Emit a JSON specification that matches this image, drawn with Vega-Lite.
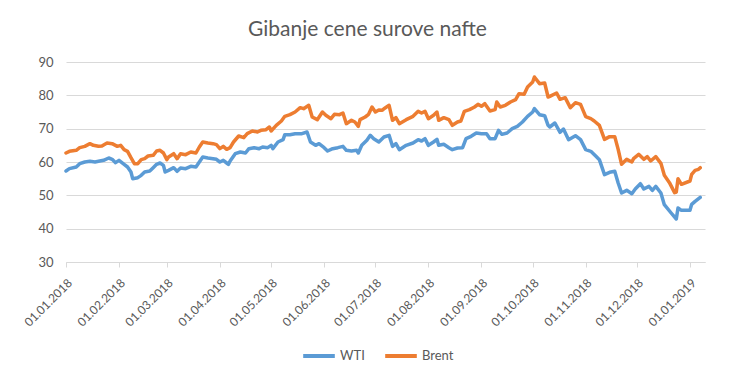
{
  "$schema": "https://vega.github.io/schema/vega-lite/v6.json",
  "width": 639,
  "height": 200,
  "autosize": {"type": "none"},
  "padding": {"left": 66, "top": 62, "right": 29, "bottom": 118},
  "background": "white",
  "title": {"text": "Gibanje cene surove nafte", "fontSize": 21, "fontWeight": "normal", "color": "#595959", "font": "Lato", "offset": 16, "dx": -18},
  "config": {"view": {"stroke": null}},
  "data": {"values": [
    {"d":"2018-01-01","s":"WTI","v":57.3},{"d":"2018-01-03","s":"WTI","v":58.0},{"d":"2018-01-07","s":"WTI","v":58.5},{"d":"2018-01-09","s":"WTI","v":59.5},{"d":"2018-01-12","s":"WTI","v":60.0},{"d":"2018-01-15","s":"WTI","v":60.2},{"d":"2018-01-18","s":"WTI","v":60.0},{"d":"2018-01-20","s":"WTI","v":60.2},{"d":"2018-01-23","s":"WTI","v":60.5},{"d":"2018-01-26","s":"WTI","v":61.2},{"d":"2018-01-28","s":"WTI","v":60.8},{"d":"2018-01-30","s":"WTI","v":59.8},{"d":"2018-02-01","s":"WTI","v":60.5},{"d":"2018-02-04","s":"WTI","v":59.3},{"d":"2018-02-06","s":"WTI","v":58.5},{"d":"2018-02-08","s":"WTI","v":57.0},{"d":"2018-02-09","s":"WTI","v":55.0},{"d":"2018-02-12","s":"WTI","v":55.3},{"d":"2018-02-14","s":"WTI","v":56.0},{"d":"2018-02-16","s":"WTI","v":57.0},{"d":"2018-02-19","s":"WTI","v":57.3},{"d":"2018-02-21","s":"WTI","v":58.3},{"d":"2018-02-23","s":"WTI","v":59.3},{"d":"2018-02-25","s":"WTI","v":59.7},{"d":"2018-02-27","s":"WTI","v":59.0},{"d":"2018-02-28","s":"WTI","v":57.0},{"d":"2018-03-02","s":"WTI","v":57.5},{"d":"2018-03-05","s":"WTI","v":58.3},{"d":"2018-03-07","s":"WTI","v":57.2},{"d":"2018-03-09","s":"WTI","v":58.2},{"d":"2018-03-12","s":"WTI","v":58.0},{"d":"2018-03-15","s":"WTI","v":58.7},{"d":"2018-03-18","s":"WTI","v":58.5},{"d":"2018-03-20","s":"WTI","v":60.0},{"d":"2018-03-22","s":"WTI","v":61.5},{"d":"2018-03-25","s":"WTI","v":61.2},{"d":"2018-03-28","s":"WTI","v":61.0},{"d":"2018-03-30","s":"WTI","v":60.8},{"d":"2018-04-01","s":"WTI","v":60.0},{"d":"2018-04-03","s":"WTI","v":60.5},{"d":"2018-04-05","s":"WTI","v":59.7},{"d":"2018-04-06","s":"WTI","v":59.3},{"d":"2018-04-07","s":"WTI","v":60.3},{"d":"2018-04-10","s":"WTI","v":62.5},{"d":"2018-04-13","s":"WTI","v":63.0},{"d":"2018-04-16","s":"WTI","v":62.7},{"d":"2018-04-18","s":"WTI","v":64.0},{"d":"2018-04-21","s":"WTI","v":64.3},{"d":"2018-04-24","s":"WTI","v":64.0},{"d":"2018-04-26","s":"WTI","v":64.5},{"d":"2018-04-29","s":"WTI","v":64.3},{"d":"2018-05-01","s":"WTI","v":65.0},{"d":"2018-05-02","s":"WTI","v":64.0},{"d":"2018-05-05","s":"WTI","v":66.0},{"d":"2018-05-08","s":"WTI","v":66.7},{"d":"2018-05-09","s":"WTI","v":68.2},{"d":"2018-05-12","s":"WTI","v":68.2},{"d":"2018-05-15","s":"WTI","v":68.5},{"d":"2018-05-19","s":"WTI","v":68.5},{"d":"2018-05-22","s":"WTI","v":69.0},{"d":"2018-05-24","s":"WTI","v":66.0},{"d":"2018-05-27","s":"WTI","v":65.0},{"d":"2018-05-29","s":"WTI","v":65.5},{"d":"2018-06-01","s":"WTI","v":64.3},{"d":"2018-06-03","s":"WTI","v":63.3},{"d":"2018-06-06","s":"WTI","v":64.0},{"d":"2018-06-09","s":"WTI","v":64.3},{"d":"2018-06-12","s":"WTI","v":64.7},{"d":"2018-06-14","s":"WTI","v":63.5},{"d":"2018-06-17","s":"WTI","v":63.3},{"d":"2018-06-20","s":"WTI","v":63.5},{"d":"2018-06-21","s":"WTI","v":62.7},{"d":"2018-06-23","s":"WTI","v":65.0},{"d":"2018-06-26","s":"WTI","v":66.5},{"d":"2018-06-28","s":"WTI","v":68.0},{"d":"2018-06-30","s":"WTI","v":67.0},{"d":"2018-07-03","s":"WTI","v":66.0},{"d":"2018-07-06","s":"WTI","v":67.5},{"d":"2018-07-09","s":"WTI","v":68.0},{"d":"2018-07-11","s":"WTI","v":64.7},{"d":"2018-07-13","s":"WTI","v":65.5},{"d":"2018-07-15","s":"WTI","v":63.7},{"d":"2018-07-19","s":"WTI","v":65.0},{"d":"2018-07-23","s":"WTI","v":65.7},{"d":"2018-07-26","s":"WTI","v":66.7},{"d":"2018-07-28","s":"WTI","v":66.3},{"d":"2018-07-30","s":"WTI","v":67.0},{"d":"2018-08-01","s":"WTI","v":65.0},{"d":"2018-08-04","s":"WTI","v":66.0},{"d":"2018-08-06","s":"WTI","v":66.8},{"d":"2018-08-07","s":"WTI","v":65.0},{"d":"2018-08-10","s":"WTI","v":65.3},{"d":"2018-08-13","s":"WTI","v":64.3},{"d":"2018-08-15","s":"WTI","v":63.7},{"d":"2018-08-18","s":"WTI","v":64.2},{"d":"2018-08-21","s":"WTI","v":64.3},{"d":"2018-08-23","s":"WTI","v":67.0},{"d":"2018-08-26","s":"WTI","v":67.7},{"d":"2018-08-29","s":"WTI","v":68.7},{"d":"2018-09-01","s":"WTI","v":68.5},{"d":"2018-09-04","s":"WTI","v":68.5},{"d":"2018-09-06","s":"WTI","v":67.0},{"d":"2018-09-09","s":"WTI","v":67.0},{"d":"2018-09-11","s":"WTI","v":69.5},{"d":"2018-09-13","s":"WTI","v":68.3},{"d":"2018-09-16","s":"WTI","v":68.7},{"d":"2018-09-19","s":"WTI","v":70.0},{"d":"2018-09-22","s":"WTI","v":70.7},{"d":"2018-09-25","s":"WTI","v":72.0},{"d":"2018-09-28","s":"WTI","v":73.7},{"d":"2018-10-01","s":"WTI","v":75.0},{"d":"2018-10-02","s":"WTI","v":76.0},{"d":"2018-10-05","s":"WTI","v":74.2},{"d":"2018-10-08","s":"WTI","v":73.9},{"d":"2018-10-10","s":"WTI","v":71.0},{"d":"2018-10-11","s":"WTI","v":70.5},{"d":"2018-10-14","s":"WTI","v":71.7},{"d":"2018-10-17","s":"WTI","v":68.9},{"d":"2018-10-19","s":"WTI","v":69.9},{"d":"2018-10-22","s":"WTI","v":66.7},{"d":"2018-10-26","s":"WTI","v":67.9},{"d":"2018-10-29","s":"WTI","v":66.7},{"d":"2018-11-01","s":"WTI","v":63.7},{"d":"2018-11-04","s":"WTI","v":63.2},{"d":"2018-11-07","s":"WTI","v":61.7},{"d":"2018-11-09","s":"WTI","v":60.7},{"d":"2018-11-12","s":"WTI","v":56.2},{"d":"2018-11-15","s":"WTI","v":56.9},{"d":"2018-11-18","s":"WTI","v":57.2},{"d":"2018-11-20","s":"WTI","v":53.7},{"d":"2018-11-22","s":"WTI","v":50.7},{"d":"2018-11-25","s":"WTI","v":51.5},{"d":"2018-11-28","s":"WTI","v":50.5},{"d":"2018-11-30","s":"WTI","v":51.9},{"d":"2018-12-03","s":"WTI","v":53.5},{"d":"2018-12-05","s":"WTI","v":51.9},{"d":"2018-12-08","s":"WTI","v":52.7},{"d":"2018-12-10","s":"WTI","v":51.5},{"d":"2018-12-12","s":"WTI","v":52.7},{"d":"2018-12-15","s":"WTI","v":50.7},{"d":"2018-12-17","s":"WTI","v":47.2},{"d":"2018-12-21","s":"WTI","v":44.7},{"d":"2018-12-24","s":"WTI","v":42.9},{"d":"2018-12-25","s":"WTI","v":46.2},{"d":"2018-12-27","s":"WTI","v":45.5},{"d":"2019-01-01","s":"WTI","v":45.5},{"d":"2019-01-02","s":"WTI","v":47.3},{"d":"2019-01-04","s":"WTI","v":48.2},{"d":"2019-01-07","s":"WTI","v":49.4},
    {"d":"2018-01-01","s":"Brent","v":62.7},{"d":"2018-01-03","s":"Brent","v":63.2},{"d":"2018-01-07","s":"Brent","v":63.5},{"d":"2018-01-09","s":"Brent","v":64.3},{"d":"2018-01-12","s":"Brent","v":64.7},{"d":"2018-01-15","s":"Brent","v":65.5},{"d":"2018-01-17","s":"Brent","v":65.0},{"d":"2018-01-20","s":"Brent","v":64.7},{"d":"2018-01-22","s":"Brent","v":64.8},{"d":"2018-01-25","s":"Brent","v":65.7},{"d":"2018-01-28","s":"Brent","v":65.5},{"d":"2018-01-31","s":"Brent","v":64.7},{"d":"2018-02-02","s":"Brent","v":65.0},{"d":"2018-02-04","s":"Brent","v":63.7},{"d":"2018-02-06","s":"Brent","v":63.2},{"d":"2018-02-08","s":"Brent","v":61.3},{"d":"2018-02-10","s":"Brent","v":59.5},{"d":"2018-02-12","s":"Brent","v":59.5},{"d":"2018-02-14","s":"Brent","v":60.7},{"d":"2018-02-16","s":"Brent","v":61.0},{"d":"2018-02-18","s":"Brent","v":61.8},{"d":"2018-02-21","s":"Brent","v":62.0},{"d":"2018-02-23","s":"Brent","v":63.3},{"d":"2018-02-25","s":"Brent","v":63.5},{"d":"2018-02-27","s":"Brent","v":62.7},{"d":"2018-03-01","s":"Brent","v":60.7},{"d":"2018-03-02","s":"Brent","v":61.5},{"d":"2018-03-05","s":"Brent","v":62.5},{"d":"2018-03-07","s":"Brent","v":61.0},{"d":"2018-03-09","s":"Brent","v":62.5},{"d":"2018-03-12","s":"Brent","v":62.2},{"d":"2018-03-15","s":"Brent","v":63.0},{"d":"2018-03-18","s":"Brent","v":62.7},{"d":"2018-03-20","s":"Brent","v":64.5},{"d":"2018-03-22","s":"Brent","v":66.0},{"d":"2018-03-25","s":"Brent","v":65.7},{"d":"2018-03-28","s":"Brent","v":65.5},{"d":"2018-03-30","s":"Brent","v":65.2},{"d":"2018-04-01","s":"Brent","v":64.0},{"d":"2018-04-03","s":"Brent","v":64.7},{"d":"2018-04-05","s":"Brent","v":63.8},{"d":"2018-04-07","s":"Brent","v":64.3},{"d":"2018-04-09","s":"Brent","v":66.0},{"d":"2018-04-12","s":"Brent","v":67.8},{"d":"2018-04-15","s":"Brent","v":67.3},{"d":"2018-04-17","s":"Brent","v":68.5},{"d":"2018-04-20","s":"Brent","v":69.3},{"d":"2018-04-23","s":"Brent","v":69.0},{"d":"2018-04-25","s":"Brent","v":69.5},{"d":"2018-04-28","s":"Brent","v":69.7},{"d":"2018-04-30","s":"Brent","v":70.5},{"d":"2018-05-01","s":"Brent","v":69.3},{"d":"2018-05-04","s":"Brent","v":71.0},{"d":"2018-05-07","s":"Brent","v":72.3},{"d":"2018-05-09","s":"Brent","v":73.7},{"d":"2018-05-12","s":"Brent","v":74.2},{"d":"2018-05-15","s":"Brent","v":75.0},{"d":"2018-05-18","s":"Brent","v":76.3},{"d":"2018-05-20","s":"Brent","v":76.0},{"d":"2018-05-23","s":"Brent","v":77.0},{"d":"2018-05-25","s":"Brent","v":73.5},{"d":"2018-05-28","s":"Brent","v":72.7},{"d":"2018-05-31","s":"Brent","v":75.0},{"d":"2018-06-02","s":"Brent","v":74.0},{"d":"2018-06-05","s":"Brent","v":73.0},{"d":"2018-06-07","s":"Brent","v":74.3},{"d":"2018-06-10","s":"Brent","v":74.2},{"d":"2018-06-12","s":"Brent","v":74.7},{"d":"2018-06-14","s":"Brent","v":71.5},{"d":"2018-06-17","s":"Brent","v":72.5},{"d":"2018-06-19","s":"Brent","v":72.0},{"d":"2018-06-21","s":"Brent","v":70.7},{"d":"2018-06-22","s":"Brent","v":72.7},{"d":"2018-06-25","s":"Brent","v":73.5},{"d":"2018-06-27","s":"Brent","v":74.3},{"d":"2018-06-29","s":"Brent","v":76.5},{"d":"2018-07-01","s":"Brent","v":75.0},{"d":"2018-07-03","s":"Brent","v":75.6},{"d":"2018-07-05","s":"Brent","v":75.5},{"d":"2018-07-06","s":"Brent","v":76.0},{"d":"2018-07-09","s":"Brent","v":77.0},{"d":"2018-07-11","s":"Brent","v":72.5},{"d":"2018-07-13","s":"Brent","v":73.3},{"d":"2018-07-15","s":"Brent","v":71.5},{"d":"2018-07-19","s":"Brent","v":72.7},{"d":"2018-07-23","s":"Brent","v":73.7},{"d":"2018-07-26","s":"Brent","v":75.2},{"d":"2018-07-28","s":"Brent","v":74.7},{"d":"2018-07-30","s":"Brent","v":75.2},{"d":"2018-08-01","s":"Brent","v":73.0},{"d":"2018-08-04","s":"Brent","v":74.0},{"d":"2018-08-06","s":"Brent","v":75.0},{"d":"2018-08-07","s":"Brent","v":72.5},{"d":"2018-08-10","s":"Brent","v":73.3},{"d":"2018-08-13","s":"Brent","v":72.7},{"d":"2018-08-15","s":"Brent","v":71.0},{"d":"2018-08-18","s":"Brent","v":72.0},{"d":"2018-08-20","s":"Brent","v":72.3},{"d":"2018-08-22","s":"Brent","v":75.2},{"d":"2018-08-25","s":"Brent","v":75.7},{"d":"2018-08-28","s":"Brent","v":76.5},{"d":"2018-08-30","s":"Brent","v":77.3},{"d":"2018-09-01","s":"Brent","v":76.7},{"d":"2018-09-03","s":"Brent","v":77.5},{"d":"2018-09-06","s":"Brent","v":75.3},{"d":"2018-09-09","s":"Brent","v":75.7},{"d":"2018-09-10","s":"Brent","v":78.0},{"d":"2018-09-12","s":"Brent","v":76.5},{"d":"2018-09-15","s":"Brent","v":77.0},{"d":"2018-09-18","s":"Brent","v":78.0},{"d":"2018-09-21","s":"Brent","v":78.7},{"d":"2018-09-23","s":"Brent","v":80.5},{"d":"2018-09-26","s":"Brent","v":80.3},{"d":"2018-09-28","s":"Brent","v":82.5},{"d":"2018-10-01","s":"Brent","v":84.0},{"d":"2018-10-02","s":"Brent","v":85.5},{"d":"2018-10-05","s":"Brent","v":83.5},{"d":"2018-10-08","s":"Brent","v":83.7},{"d":"2018-10-10","s":"Brent","v":79.5},{"d":"2018-10-11","s":"Brent","v":79.7},{"d":"2018-10-15","s":"Brent","v":80.7},{"d":"2018-10-17","s":"Brent","v":78.8},{"d":"2018-10-20","s":"Brent","v":79.3},{"d":"2018-10-23","s":"Brent","v":76.3},{"d":"2018-10-26","s":"Brent","v":77.8},{"d":"2018-10-29","s":"Brent","v":77.3},{"d":"2018-11-01","s":"Brent","v":73.6},{"d":"2018-11-04","s":"Brent","v":73.0},{"d":"2018-11-06","s":"Brent","v":72.3},{"d":"2018-11-09","s":"Brent","v":71.0},{"d":"2018-11-12","s":"Brent","v":66.8},{"d":"2018-11-15","s":"Brent","v":67.6},{"d":"2018-11-18","s":"Brent","v":67.6},{"d":"2018-11-20","s":"Brent","v":63.8},{"d":"2018-11-22","s":"Brent","v":59.3},{"d":"2018-11-25","s":"Brent","v":60.8},{"d":"2018-11-28","s":"Brent","v":60.0},{"d":"2018-11-29","s":"Brent","v":61.0},{"d":"2018-12-02","s":"Brent","v":62.3},{"d":"2018-12-05","s":"Brent","v":60.8},{"d":"2018-12-07","s":"Brent","v":61.6},{"d":"2018-12-09","s":"Brent","v":60.3},{"d":"2018-12-12","s":"Brent","v":61.6},{"d":"2018-12-15","s":"Brent","v":59.6},{"d":"2018-12-17","s":"Brent","v":56.0},{"d":"2018-12-20","s":"Brent","v":53.8},{"d":"2018-12-23","s":"Brent","v":50.8},{"d":"2018-12-24","s":"Brent","v":51.0},{"d":"2018-12-25","s":"Brent","v":55.0},{"d":"2018-12-27","s":"Brent","v":53.3},{"d":"2019-01-01","s":"Brent","v":54.3},{"d":"2019-01-02","s":"Brent","v":56.3},{"d":"2019-01-04","s":"Brent","v":57.5},{"d":"2019-01-06","s":"Brent","v":57.8},{"d":"2019-01-07","s":"Brent","v":58.3}
  ]},
  "mark": {"type": "line", "strokeWidth": 3.5, "strokeJoin": "round", "strokeCap": "round"},
  "encoding": {
    "x": {
      "field": "d", "type": "temporal",
      "scale": {"type": "utc", "domain": [{"year": 2018, "month": 1, "date": 1, "utc": true}, {"year": 2019, "month": 1, "date": 9, "hours": 19, "utc": true}]},
      "axis": {
        "title": null,
        "values": [
          {"year": 2018, "month": 1, "date": 1, "utc": true},
          {"year": 2018, "month": 2, "date": 1, "utc": true},
          {"year": 2018, "month": 3, "date": 1, "utc": true},
          {"year": 2018, "month": 4, "date": 1, "utc": true},
          {"year": 2018, "month": 5, "date": 1, "utc": true},
          {"year": 2018, "month": 6, "date": 1, "utc": true},
          {"year": 2018, "month": 7, "date": 1, "utc": true},
          {"year": 2018, "month": 8, "date": 1, "utc": true},
          {"year": 2018, "month": 9, "date": 1, "utc": true},
          {"year": 2018, "month": 10, "date": 1, "utc": true},
          {"year": 2018, "month": 11, "date": 1, "utc": true},
          {"year": 2018, "month": 12, "date": 1, "utc": true},
          {"year": 2019, "month": 1, "date": 1, "utc": true}
        ],
        "labelExpr": "utcFormat(datum.value, '%d.%m.%Y')",
        "labelAngle": -45, "labelFont": "Lato", "labelFontSize": 12, "labelColor": "#595959",
        "grid": false, "domainColor": "#d9d9d9", "tickColor": "#d9d9d9", "tickSize": 5, "labelPadding": 10, "labelOverlap": false
      }
    },
    "y": {
      "field": "v", "type": "quantitative",
      "scale": {"domain": [30, 90], "nice": false, "zero": false},
      "axis": {
        "title": null, "values": [30, 40, 50, 60, 70, 80, 90],
        "domain": false, "ticks": false, "gridColor": "#d9d9d9",
        "labelFont": "Lato", "labelFontSize": 13, "labelColor": "#595959", "labelPadding": 13
      }
    },
    "color": {
      "field": "s", "type": "nominal",
      "scale": {"domain": ["WTI", "Brent"], "range": ["#5B9BD5", "#ED7D31"]},
      "legend": {
        "title": null, "orient": "none", "legendX": 235, "legendY": 276, "direction": "horizontal",
        "symbolType": "stroke", "symbolStrokeWidth": 4, "symbolSize": 1000, "labelOffset": 3,
        "labelFont": "Lato", "labelFontSize": 13, "labelColor": "#595959", "columnPadding": 12
      }
    }
  }
}
